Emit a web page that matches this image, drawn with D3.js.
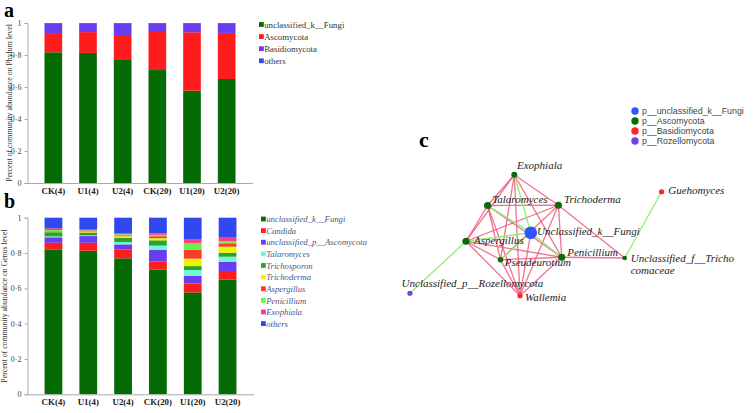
<!DOCTYPE html>
<html>
<head>
<meta charset="utf-8">
<script src="https://cdn.jsdelivr.net/npm/d3@7"></script>
<style>
  body { margin: 0; background: #fff; }
  svg { display: block; }
</style>
</head>
<body>
<svg id="chart" width="756" height="413"></svg>
<script>
// samples on the x axis
var samples = ['CK(4)', 'U1(4)', 'U2(4)', 'CK(20)', 'U1(20)', 'U2(20)'];
var yTicks = [0, 0.2, 0.4, 0.6, 0.8, 1];
var yTickLabels = ['0', '0·2', '0·4', '0·6', '0·8', '1'];

// panel a, phylum level
var phyla = ['unclassified_k__Fungi', 'Ascomycota', 'Basidiomycota', 'others'];
var phylumColors = ['#056b05', '#ff1c1c', '#6a3cf0', '#3048f0'];
var phylumValues = [
  [0.817, 0.813, 0.769, 0.706, 0.577, 0.650],
  [0.120, 0.130, 0.150, 0.238, 0.365, 0.288],
  [0.058, 0.052, 0.076, 0.051, 0.053, 0.057],
  [0.005, 0.005, 0.005, 0.005, 0.005, 0.005]
];

// panel b, genus level
var genera = ['unclassified_k__Fungi', 'Candida', 'unclassified_p__Ascomycota', 'Talaromyces',
  'Trichosporon', 'Trichoderma', 'Aspergillus', 'Penicillium', 'Exophiala', 'others'];
var genusColors = ['#056b05', '#ff1c1c', '#6a3cf0', '#70f7d8', '#2ea22e', '#eef700',
  '#ff3a26', '#66f24a', '#ff3a80', '#3048f0'];
var genusValues = [
  [0.818, 0.813, 0.770, 0.707, 0.577, 0.650],
  [0.040, 0.045, 0.051, 0.044, 0.051, 0.048],
  [0.031, 0.038, 0.028, 0.066, 0.042, 0.053],
  [0.005, 0.004, 0.013, 0.025, 0.034, 0.028],
  [0.024, 0.015, 0.025, 0.030, 0.022, 0.023],
  [0.003, 0.003, 0.008, 0.012, 0.042, 0.034],
  [0.003, 0.004, 0.005, 0.011, 0.050, 0.019],
  [0.006, 0.006, 0.006, 0.008, 0.039, 0.013],
  [0.010, 0.008, 0.006, 0.008, 0.022, 0.019],
  [0.060, 0.064, 0.088, 0.089, 0.121, 0.113]
];

// panel c, network
var phylumGroups = ['p__unclassified_k__Fungi', 'p__Ascomycota', 'p__Basidiomycota', 'p__Rozellomycota'];
var groupColors = ['#2a55ff', '#0b6a0b', '#ff2424', '#7040e8'];
var nodeNames = ['Unclassified_k__Fungi', 'Exophiala', 'Talaromyces', 'Trichoderma', 'Aspergillus',
  'Pseudeurotium', 'Penicillium', 'Unclassified_f__Trichocomaceae', 'Guehomyces', 'Wallemia',
  'Unclassified_p__Rozellomycota'];
var nodeGroup = [0, 1, 1, 1, 1, 1, 1, 1, 2, 2, 3];
var nodeSize = [6.3, 3, 3.6, 3.6, 3.6, 2.8, 3.6, 2.3, 2.6, 2.6, 2.6];
// layout position in the 0..100 network space
var nodeX = [43.6, 38.1, 29.2, 52.8, 22, 33.5, 53.9, 74.9, 87.2, 40, 3.3];
var nodeY = [49.1, 25.9, 38.2, 38.1, 52.5, 59.9, 58.9, 59.2, 32.7, 74.3, 73.3];
var positiveLinks = [
  [1, 2], [1, 3], [1, 4], [1, 5], [1, 6], [1, 9],
  [2, 3], [2, 4], [2, 5], [2, 9], [2, 6],
  [3, 4], [3, 5], [3, 6], [3, 9], [3, 7],
  [4, 5], [4, 6], [4, 9], [5, 6], [5, 9], [6, 9], [6, 7], [0, 9]
];
var negativeLinks = [[4, 10], [7, 8], [0, 1], [0, 2], [0, 4], [0, 6], [0, 5]];

var svg = d3.select('#chart');
var serif = '"Liberation Serif", "Times New Roman", serif';

function barPanel(opt) {
  var g = svg.append('g');
  var x = d3.scaleBand().domain(samples).range(opt.xRange).padding(0.49);
  var y = d3.scaleLinear().domain([0, 1]).range(opt.yRange);

  var rows = samples.map(function(s, i) {
    var r = { sample: s };
    opt.keys.forEach(function(k, j) { r[k] = opt.values[j][i]; });
    return r;
  });
  var stack = d3.stack().keys(opt.keys)(rows);

  g.selectAll('g.layer').data(stack).enter().append('g')
    .attr('fill', function(d, i) { return opt.colors[i]; })
    .selectAll('rect').data(function(d) { return d; }).enter().append('rect')
    .attr('x', function(d) { return x(d.data.sample); })
    .attr('y', function(d) { return y(d[1]); })
    .attr('width', x.bandwidth())
    .attr('height', function(d) { return Math.max(0, y(d[0]) - y(d[1])); });

  var yAxis = g.append('g')
    .attr('transform', 'translate(' + opt.xRange[0] + ',0)')
    .call(d3.axisLeft(y).tickValues(yTicks).tickSize(3)
      .tickFormat(function(d, i) { return yTickLabels[i]; }));
  yAxis.selectAll('text').attr('font-family', serif).attr('font-size', 8).attr('fill', '#444');
  yAxis.selectAll('line, path').attr('stroke', '#aaa');

  var xAxis = g.append('g')
    .attr('transform', 'translate(0,' + opt.yRange[0] + ')')
    .call(d3.axisBottom(x).tickSize(0).tickPadding(opt.tickPad));
  xAxis.selectAll('text').attr('font-family', serif).attr('font-size', 8.9)
    .attr('font-weight', 'bold').attr('fill', '#222');
  xAxis.select('path').attr('stroke', '#aaa');

  g.append('text')
    .attr('transform', 'translate(' + opt.labelX + ',' + (opt.yRange[0] + opt.yRange[1]) / 2 + ') rotate(-90)')
    .attr('text-anchor', 'middle')
    .attr('font-family', serif).attr('font-size', 7.8).attr('fill', '#333')
    .text(opt.yLabel);

  var leg = g.selectAll('g.leg').data(opt.keys).enter().append('g')
    .attr('transform', function(d, i) { return 'translate(' + opt.legX + ',' + (opt.legY + i * opt.legStep) + ')'; });
  leg.append('rect').attr('x', 0).attr('y', -2.4).attr('width', 4.8).attr('height', 4.8)
    .attr('fill', function(d, i) { return opt.colors[i]; });
  leg.append('text').attr('x', 5.2).attr('y', 3.2)
    .attr('font-family', serif).attr('font-size', opt.legSize)
    .attr('font-style', opt.italic ? 'italic' : 'normal')
    .attr('fill', opt.legColor)
    .text(function(d) { return d; });

  g.append('text').attr('x', 4).attr('y', opt.letterY)
    .attr('font-family', serif).attr('font-size', 20).attr('font-weight', 'bold')
    .text(opt.letter);
}

barPanel({
  keys: phyla, values: phylumValues, colors: phylumColors,
  xRange: [27.5, 252.5], yRange: [183, 23], tickPad: 5,
  yLabel: 'Percent of community abundance on Phylum level', labelX: 12,
  legX: 259, legY: 24.5, legStep: 12.1, legSize: 8.8, italic: false, legColor: '#333',
  letter: 'a', letterY: 17
});

barPanel({
  keys: genera, values: genusValues, colors: genusColors,
  xRange: [27.5, 253.5], yRange: [394.3, 217.7], tickPad: 4,
  yLabel: 'Percent of community abundance on Genus level', labelX: 7,
  legX: 261, legY: 219, legStep: 11.62, legSize: 8.7, italic: true, legColor: '#4a5680',
  letter: 'b', letterY: 208
});

// panel c network
var gx = d3.scaleLinear().domain([0, 100]).range([400, 700]);
var gy = d3.scaleLinear().domain([0, 100]).range([110, 360]);
var net = svg.append('g');

net.selectAll('line.pos').data(positiveLinks).enter().append('line')
  .attr('x1', function(d) { return gx(nodeX[d[0]]); })
  .attr('y1', function(d) { return gy(nodeY[d[0]]); })
  .attr('x2', function(d) { return gx(nodeX[d[1]]); })
  .attr('y2', function(d) { return gy(nodeY[d[1]]); })
  .attr('stroke', '#f0587c').attr('stroke-width', 1.3).attr('stroke-opacity', 0.85);

net.selectAll('line.neg').data(negativeLinks).enter().append('line')
  .attr('x1', function(d) { return gx(nodeX[d[0]]); })
  .attr('y1', function(d) { return gy(nodeY[d[0]]); })
  .attr('x2', function(d) { return gx(nodeX[d[1]]); })
  .attr('y2', function(d) { return gy(nodeY[d[1]]); })
  .attr('stroke', '#8ef070').attr('stroke-width', 1.3);

net.selectAll('circle.node').data(nodeNames).enter().append('circle')
  .attr('cx', function(d, i) { return gx(nodeX[i]); })
  .attr('cy', function(d, i) { return gy(nodeY[i]); })
  .attr('r', function(d, i) { return nodeSize[i]; })
  .attr('fill', function(d, i) { return groupColors[nodeGroup[i]]; });

// label offsets relative to node
var labelDx = [6.3, 2.7, 4.6, 5.5, 8, 4.2, 5.5, 6, 6.6, 5, -8.3];
var labelDy = [2.5, -5.7, -2.5, -2.2, 2.3, 6.7, -1.2, 4, 2.3, 5.3, -6.3];
var nodeLabels = net.selectAll('text.lab').data(nodeNames).enter().append('text')
  .attr('x', function(d, i) { return gx(nodeX[i]) + labelDx[i]; })
  .attr('y', function(d, i) { return gy(nodeY[i]) + labelDy[i]; })
  .attr('font-family', serif).attr('font-size', 11).attr('font-style', 'italic').attr('fill', '#222');
nodeLabels.each(function(d) {
  var t = d3.select(this);
  if (d === 'Unclassified_f__Trichocomaceae') {
    t.append('tspan').text('Unclassified_f__Tricho');
    t.append('tspan').attr('x', t.attr('x')).attr('dy', 12).text('comaceae');
  } else {
    t.text(d);
  }
});

var cl = net.selectAll('g.cleg').data(phylumGroups).enter().append('g')
  .attr('transform', function(d, i) { return 'translate(635,' + (111 + i * 10) + ')'; });
cl.append('circle').attr('r', 3.7).attr('fill', function(d, i) { return groupColors[i]; });
cl.append('text').attr('x', 7).attr('y', 3.2)
  .attr('font-family', '"Liberation Sans", Arial, sans-serif').attr('font-size', 8.8).attr('fill', '#444')
  .text(function(d) { return d; });

net.append('text').attr('x', 419).attr('y', 147)
  .attr('font-family', serif).attr('font-size', 22).attr('font-weight', 'bold')
  .text('c');
</script>
</body>
</html>
